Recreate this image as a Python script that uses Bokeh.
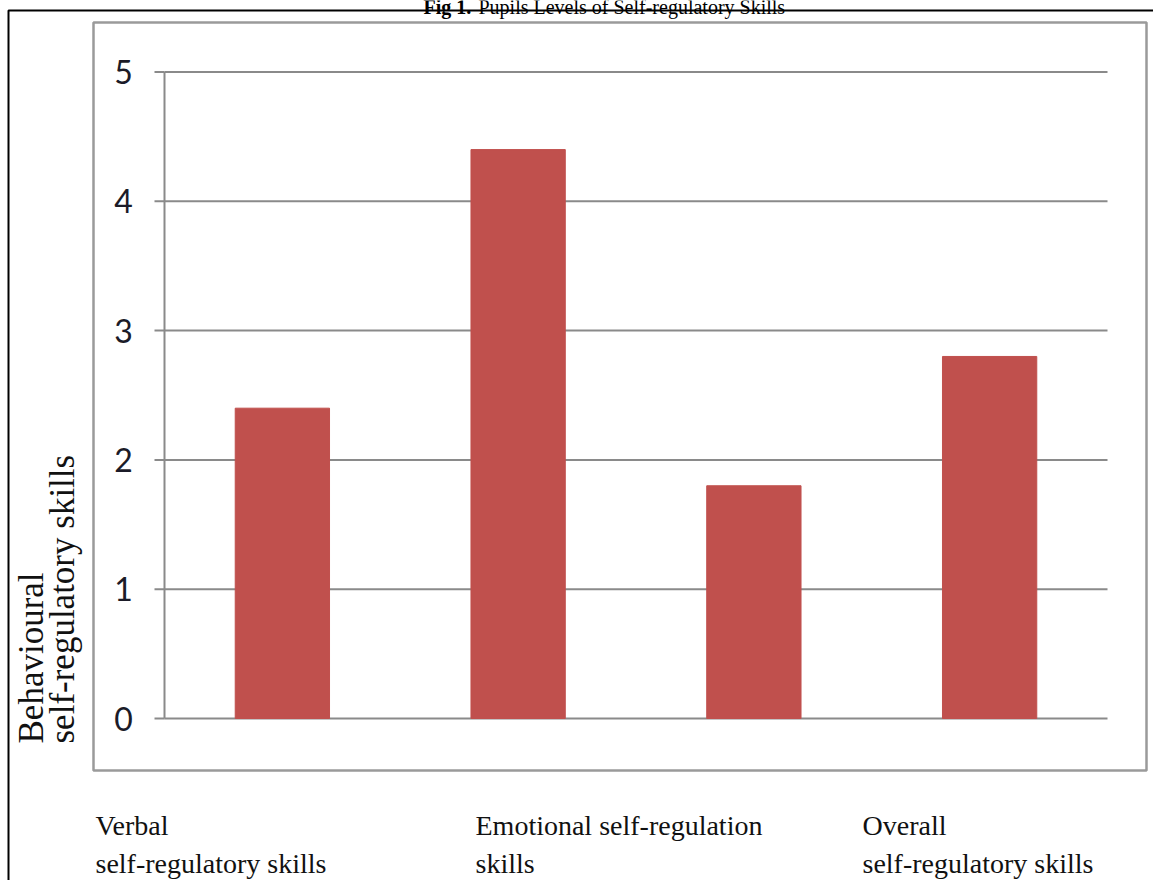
from bokeh.plotting import figure
from bokeh.models import Label, BoxAnnotation, ColumnDataSource
from bokeh.core.properties import value
from bokeh.embed import file_html
from bokeh.resources import INLINE

categories = ["Verbal", "Emotional", "Behavioural", "Overall"]
values = [2.4, 4.4, 1.8, 2.8]
y_ticks = [0, 1, 2, 3, 4, 5]
y_tick_labels = ["0", "1", "2", "3", "4", "5"]
title_bold = "Fig 1."
title_rest = "Pupils Levels of Self-regulatory Skills"
x_label_lines = [
    ["Verbal", "self-regulatory skills"],
    ["Emotional  self-regulation", "skills"],
    ["Overall", "self-regulatory skills"],
]
y_label_lines = ["Behavioural", "self-regulatory skills"]

W, H = 1153, 880
# plot area in canvas pixels
PL, PR, PT, PB = 164, 1107, 71.5, 718
n = len(categories)
ymax = 5
ux = (PR - PL) / n          # pixels per category
uy = (PB - PT) / ymax       # pixels per y unit

x_start = -PL / ux
x_end = n + (W - PR) / ux
y_start = -(H - PB) / uy
y_end = ymax + PT / uy

def px_x(px):
    return (px - PL) / ux

p = figure(width=W, height=H, x_range=(x_start, x_end), y_range=(y_start, y_end),
           output_backend="svg", toolbar_location=None,
           min_border=0, min_border_left=0, min_border_right=0,
           min_border_top=0, min_border_bottom=0)
p.axis.visible = False
p.grid.visible = False
p.outline_line_color = None
p.background_fill_color = "white"
p.border_fill_color = "white"

xc = [i + 0.5 for i in range(n)]
src = ColumnDataSource(dict(x=xc, top=values, cat=categories))

# gridlines (y axis ticks)
p.segment(x0=[0] * len(y_ticks), x1=[n] * len(y_ticks), y0=y_ticks, y1=y_ticks,
          line_color="#8a8a8a", line_width=2)
# tick marks
p.segment(x0=[px_x(PL - 10)] * len(y_ticks), x1=[0] * len(y_ticks), y0=y_ticks,
          y1=y_ticks, line_color="#8a8a8a", line_width=2)
# axis line
p.segment(x0=[0], x1=[0], y0=[0], y1=[ymax], line_color="#8a8a8a", line_width=2)

p.vbar(x="x", top="top", width=0.4, color="#C0504D", source=src)

# tick labels
p.text(x=[px_x(123)] * len(y_ticks), y=y_ticks, text=y_tick_labels,
       text_align="center", text_baseline="middle", text_font=value("Lato"),
       text_font_size="32px", text_color="#1b1b28")

# inner chart border and outer page border
p.add_layout(BoxAnnotation(left=93, right=1146, top=22, bottom=770,
                           left_units="canvas", right_units="canvas",
                           top_units="canvas", bottom_units="canvas",
                           fill_color=None, line_color="#9a9a9a", line_alpha=1,
                           line_width=2.5))
p.add_layout(BoxAnnotation(left=8, right=1170, top=10, bottom=900,
                           left_units="canvas", right_units="canvas",
                           top_units="canvas", bottom_units="canvas",
                           fill_color=None, line_color="#000000", line_alpha=1,
                           line_width=2))

title_left = 423
p.add_layout(Label(x=title_left, y=6, x_units="canvas", y_units="canvas",
                   text=title_bold, text_align="left", text_baseline="alphabetic",
                   text_font="Liberation Serif", text_font_style="bold",
                   text_font_size="20px", text_color="#000"))
p.add_layout(Label(x=title_left + 55, y=6, x_units="canvas", y_units="canvas",
                   text=title_rest, text_align="left", text_baseline="alphabetic",
                   text_font="Liberation Serif", text_font_size="20px", text_color="#000"))

x_pos = [95, 475, 862]
for xp, lines in zip(x_pos, x_label_lines):
    for i, t in enumerate(lines):
        p.add_layout(Label(x=xp, y=825 + 38 * i, x_units="canvas", y_units="canvas",
                           text=t, text_align="left", text_baseline="alphabetic",
                           text_font="Liberation Serif", text_font_size="28px",
                           text_color="#111"))

for i, t in enumerate(y_label_lines):
    p.add_layout(Label(x=31 + 31 * i, y=743, x_units="canvas", y_units="canvas",
                       text=t, angle=90, angle_units="deg", text_align="left",
                       text_baseline="alphabetic",
                       text_font="Liberation Serif", text_font_size="35px",
                       text_color="#111"))

open("out.html", "w").write(file_html(p, INLINE))
